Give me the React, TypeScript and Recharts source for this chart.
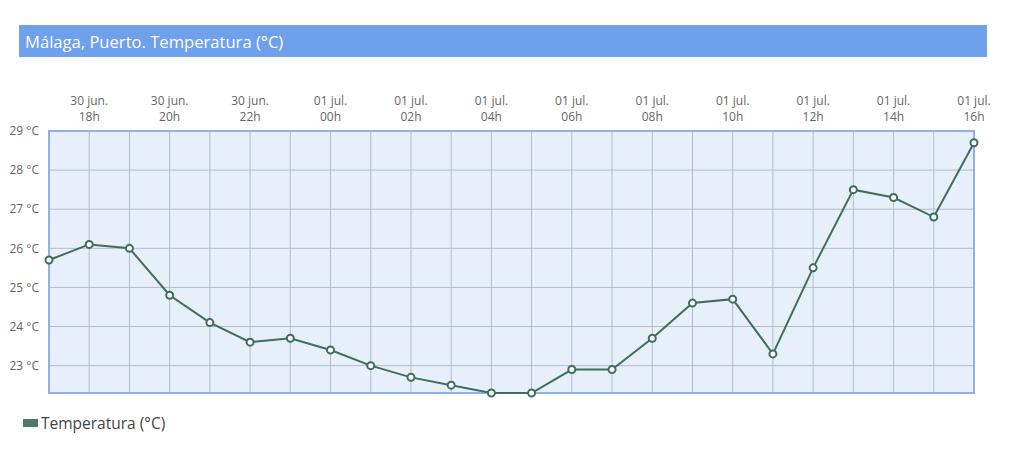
import { LineChart, Line, XAxis, YAxis, CartesianGrid, ReferenceArea } from 'recharts';

// hourly readings, 30 jun 17h -> 01 jul 16h
const hours = ['17', '18', '19', '20', '21', '22', '23', '00', '01', '02', '03', '04', '05', '06', '07', '08', '09', '10', '11', '12', '13', '14', '15', '16'];
const days = ['30 jun.', '30 jun.', '30 jun.', '30 jun.', '30 jun.', '30 jun.', '30 jun.', '01 jul.', '01 jul.', '01 jul.', '01 jul.', '01 jul.', '01 jul.', '01 jul.', '01 jul.', '01 jul.', '01 jul.', '01 jul.', '01 jul.', '01 jul.', '01 jul.', '01 jul.', '01 jul.', '01 jul.'];
const temps = [25.7, 26.1, 26.0, 24.8, 24.1, 23.6, 23.7, 23.4, 23.0, 22.7, 22.5, 22.3, 22.3, 22.9, 22.9, 23.7, 24.6, 24.7, 23.3, 25.5, 27.5, 27.3, 26.8, 28.7];
const yTicks = [23, 24, 25, 26, 27, 28, 29];

const data = temps.map((t, i) => ({ i, t, hour: hours[i], day: days[i] }));
const xTicks = data.map((d) => d.i);

const FONT = '"Open Sans", sans-serif';

function TopTick(props: any) {
  const { x, y, payload } = props;
  const d = data[payload.value];
  if (!d || Number(d.hour) % 2 !== 0) return null;
  return (
    <g>
      <text x={x} y={y - 18} textAnchor="middle" fill="#666" fontSize={12} fontFamily={FONT}>{d.day}</text>
      <text x={x} y={y - 2} textAnchor="middle" fill="#666" fontSize={12} fontFamily={FONT}>{d.hour}h</text>
    </g>
  );
}

export default function App() {
  return (
    <div style={{ position: 'absolute', left: 0, top: 0, width: 1029, height: 457, background: '#fff', fontFamily: FONT }}>
      <div style={{ position: 'absolute', left: 19, top: 25, width: 968, height: 32, background: '#6ea0ec', color: '#fff', fontSize: 16.6, lineHeight: '33px', paddingLeft: 6, boxSizing: 'border-box' }}>
        Málaga, Puerto. Temperatura (°C)
      </div>
      <div style={{ position: 'absolute', left: 0, top: 0 }}>
        <LineChart width={1029} height={400} data={data} margin={{ top: 91, right: 55, bottom: 7, left: 8 }}>
          <CartesianGrid stroke="#b3bccc" fill="#e7effb" />
          <XAxis
            dataKey="i"
            type="number"
            orientation="top"
            domain={[0, 23]}
            ticks={xTicks}
            interval={0}
            height={40}
            axisLine={false}
            tickLine={false}
            tick={<TopTick />}
          />
          <YAxis
            type="number"
            domain={[22.3, 29]}
            ticks={yTicks}
            width={41}
            axisLine={false}
            tickLine={false}
            tickFormatter={(v) => `${v} °C`}
            tick={{ fill: '#666', fontSize: 12, fontFamily: FONT }}
            tickMargin={4}
          />
          <ReferenceArea x1={0} x2={23} y1={22.3} y2={29} fill="none" fillOpacity={0} stroke="#8fb1e6" strokeWidth={2} />
          <Line
            dataKey="t"
            stroke="#3f6e5d"
            strokeWidth={2}
            dot={{ r: 3.5, fill: '#fff', stroke: '#3f6e5d', strokeWidth: 2 }}
            isAnimationActive={false}
          />
        </LineChart>
      </div>
      <div style={{ position: 'absolute', left: 23, top: 412, display: 'flex', alignItems: 'center', fontSize: 15.5, color: '#444' }}>
        <span style={{ display: 'inline-block', width: 15, height: 8, background: '#4a7a68', marginRight: 3 }} />
        Temperatura (°C)
      </div>
    </div>
  );
}
